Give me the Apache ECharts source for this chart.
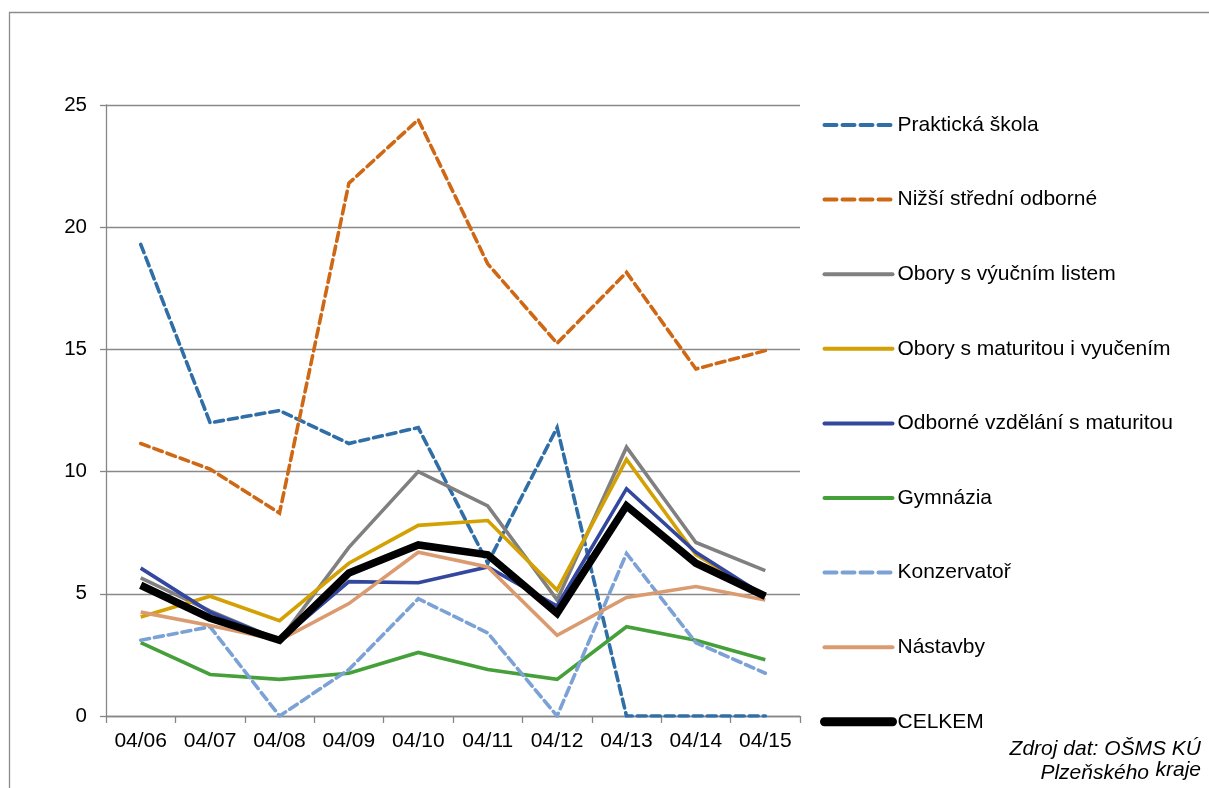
<!DOCTYPE html>
<html>
<head>
<meta charset="utf-8">
<script src="https://cdn.jsdelivr.net/npm/echarts@6/dist/echarts.min.js"></script>
<style>
html,body{margin:0;padding:0;background:#fff;}
#chart{width:1209px;height:788px;}
</style>
</head>
<body>
<div id="chart"></div>
<script>
const categories = ['04/06','04/07','04/08','04/09','04/10','04/11','04/12','04/13','04/14','04/15'];
const prakticka   = [19.3, 12.0, 12.5, 11.15, 11.8, 6.25, 11.8, 0, 0, 0];
const nizsi       = [11.15, 10.1, 8.3, 21.8, 24.4, 18.5, 15.25, 18.15, 14.2, 14.95];
const oboryVL     = [5.65, 4.3, 3.1, 6.9, 10.0, 8.6, 4.75, 11.0, 7.1, 5.95];
const oboryMV     = [4.05, 4.9, 3.9, 6.25, 7.8, 8.0, 5.15, 10.5, 6.6, 4.9];
const odborne     = [6.05, 4.25, 3.1, 5.5, 5.45, 6.1, 4.5, 9.3, 6.7, 4.9];
const gymnazia    = [3.0, 1.7, 1.5, 1.75, 2.6, 1.9, 1.5, 3.65, 3.1, 2.3];
const konzervator = [3.1, 3.65, 0, 1.9, 4.8, 3.4, 0, 6.65, 3.0, 1.75];
const nastavby    = [4.25, 3.7, 3.1, 4.6, 6.7, 6.1, 3.3, 4.85, 5.3, 4.75];
const celkem      = [5.35, 4.0, 3.1, 5.85, 7.0, 6.6, 4.2, 8.6, 6.25, 4.9];
const yTicks = [0, 5, 10, 15, 20, 25];

const FONT = '"Liberation Sans", Arial, sans-serif';
function mk(name, data, color, width, dashed, z) {
  return {
    name, type: 'line', data, symbol: 'none', z: z || 2,
    lineStyle: { color, width, type: dashed ? [9, 5] : 'solid', cap: dashed ? 'round' : 'butt', join: 'miter' },
    itemStyle: { color },
    animation: false
  };
}
const series = [
  mk('Praktická škola', prakticka, '#2F6EA6', 3.6, true),
  mk('Nižší střední odborné', nizsi, '#CF6815', 3.6, true),
  mk('Obory s výučním listem', oboryVL, '#808080', 3.6),
  mk('Obory s maturitou i vyučením', oboryMV, '#D4A104', 3.6),
  mk('Odborné vzdělání s maturitou', odborne, '#33479E', 3.6),
  mk('Gymnázia', gymnazia, '#46A03A', 3.6),
  mk('Konzervatoř', konzervator, '#7CA1D5', 3.6, true),
  mk('Nástavby', nastavby, '#DA9B70', 3.6),
  mk('CELKEM', celkem, '#000000', 7.5, false, 5)
];

const legendData = series.map(s => ({
  name: s.name,
  itemStyle: { color: 'transparent', borderColor: 'transparent', borderWidth: 0, opacity: 0 },
  lineStyle: {
    color: s.lineStyle.color,
    width: s.name === 'CELKEM' ? 9 : 4,
    type: Array.isArray(s.lineStyle.type) ? [12, 6] : 'solid',
    cap: 'round'
  }
}));

const chart = echarts.init(document.getElementById('chart'), null, { renderer: 'canvas' });
chart.setOption({
  backgroundColor: '#ffffff',
  animation: false,
  textStyle: { fontFamily: FONT },
  grid: { left: 106, right: 409, top: 105, bottom: 72, containLabel: false },
  legend: {
    orient: 'vertical', left: 820, top: 114.5, padding: 0,
    itemWidth: 68, itemHeight: 21, itemGap: 53.6,
    itemStyle: { color: 'transparent', borderColor: 'transparent', borderWidth: 0, opacity: 0 },
    textStyle: { fontSize: 21, color: '#000', fontFamily: FONT },
    data: legendData
  },
  xAxis: {
    type: 'category', data: categories, boundaryGap: true,
    axisLine: { lineStyle: { color: '#868686', width: 1.3 } },
    axisTick: { show: true, length: 7, interval: 0, lineStyle: { color: '#868686', width: 1.3 } },
    axisLabel: { fontSize: 21, color: '#000', margin: 15, fontFamily: FONT, interval: 0 }
  },
  yAxis: {
    type: 'value', min: yTicks[0], max: yTicks[yTicks.length - 1], interval: 5,
    axisLine: { show: true, lineStyle: { color: '#868686', width: 1.3 } },
    axisTick: { show: true, length: 6, lineStyle: { color: '#868686', width: 1.3 } },
    axisLabel: { fontSize: 20.5, color: '#000', margin: 19, fontFamily: FONT },
    splitLine: { show: true, lineStyle: { color: '#898989', width: 1.3 } }
  },
  graphic: [
    { type: 'rect', left: 7, top: 10, z: -1, silent: true,
      shape: { x: 0, y: 0, width: 1260, height: 900 },
      style: { fill: 'none', stroke: '#8c8c8c', lineWidth: 1.3 } },
    { type: 'text', right: 8, top: 739, silent: true,
      style: { text: 'Zdroj dat: OŠMS KÚ', font: 'italic 21px ' + FONT, fill: '#000', textAlign: 'right' } },
    { type: 'text', right: 8, top: 760, silent: true,
      style: { text: 'kraje', font: 'italic 21px ' + FONT, fill: '#000', textAlign: 'right' } },
    { type: 'text', right: 60, top: 763, silent: true,
      style: { text: 'Plzeňského', font: 'italic 21px ' + FONT, fill: '#000', textAlign: 'right' } }
  ],
  series
});
</script>
</body>
</html>
